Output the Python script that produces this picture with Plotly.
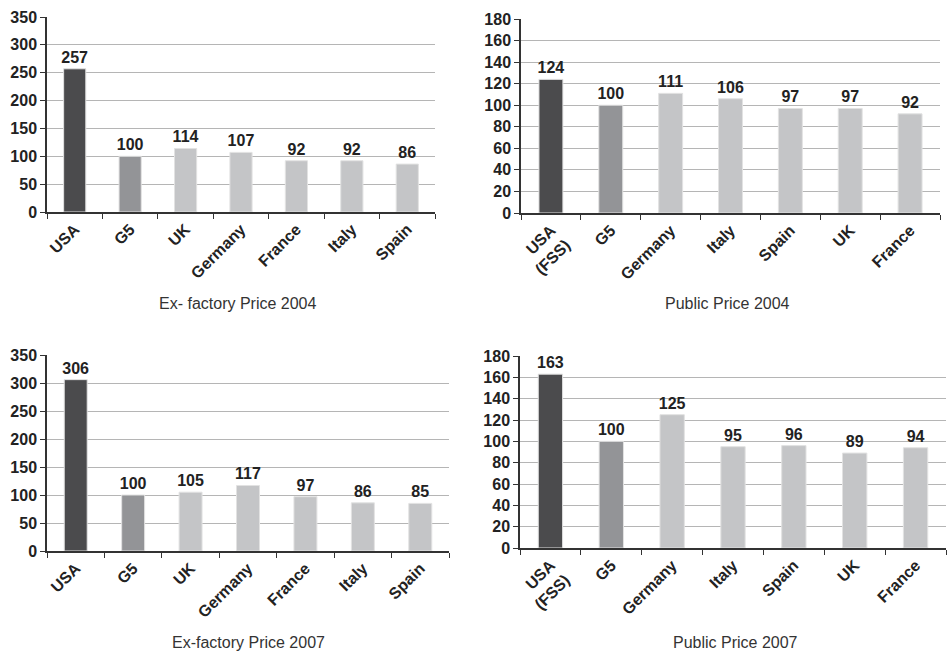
import plotly.graph_objects as go

cats_ex = ["USA", "G5", "UK", "Germany", "France", "Italy", "Spain"]
cats_pub = ["USA<br>(FSS)", "G5", "Germany", "Italy", "Spain", "UK", "France"]

ex_2004 = [257, 100, 114, 107, 92, 92, 86]
pub_2004 = [124, 100, 111, 106, 97, 97, 92]
ex_2007 = [306, 100, 105, 117, 97, 86, 85]
pub_2007 = [163, 100, 125, 95, 96, 89, 94]

titles = ["Ex- factory Price 2004", "Public Price 2004", "Ex-factory Price 2007", "Public Price 2007"]

W, H = 947, 651
bar_colors = ["#4b4b4d", "#939497"] + ["#c4c5c7"] * 5
FONT = "Liberation Sans, Arial, sans-serif"

panels = [
    # cats, values, ymax, dtick, x0, x1, ytop, ybottom (pixels), title center x, title y
    (cats_ex, ex_2004, 350, 50, 47, 435, 17, 212, 238, 303),
    (cats_pub, pub_2004, 180, 20, 521, 940, 19, 213, 727, 303),
    (cats_ex, ex_2007, 350, 50, 47, 449, 355, 551, 248, 642),
    (cats_pub, pub_2007, 180, 20, 520, 946, 356, 548, 735, 642),
]

fig = go.Figure()
layout = dict(
    width=W, height=H, margin=dict(l=0, r=0, t=0, b=0, autoexpand=False),
    paper_bgcolor="white", plot_bgcolor="white",
    showlegend=False, bargap=0.6,
    font=dict(family=FONT, color="#222"),
    annotations=[],
)

for i, (cats, vals, ymax, dt, x0, x1, yt, yb, tx, ty) in enumerate(panels):
    k = "" if i == 0 else str(i + 1)
    fig.add_trace(go.Bar(
        x=cats, y=vals, xaxis="x" + k, yaxis="y" + k,
        marker=dict(color=bar_colors, line=dict(color="#e2e2e2", width=1)),
        text=[str(v) for v in vals], textposition="outside", constraintext="none",
        textfont=dict(size=16, color="#222", family=FONT, weight="bold"),
        cliponaxis=False, hoverinfo="skip",
    ))
    layout["xaxis" + k] = dict(
        domain=[x0 / W, x1 / W], anchor="y" + k, automargin=False,
        showline=True, linecolor="#333", linewidth=1.5,
        ticks="outside", tickson="boundaries", ticklen=5, tickcolor="#333",
        tickangle=-45, showgrid=False,
        tickfont=dict(size=16, color="#222", family=FONT, weight="bold"),
        fixedrange=True,
    )
    layout["yaxis" + k] = dict(
        domain=[(H - yb) / H, (H - yt) / H], anchor="x" + k, automargin=False,
        range=[0, ymax], dtick=dt, tick0=0,
        showline=True, linecolor="#333", linewidth=1.5,
        ticks="outside", ticklen=5, tickcolor="#333",
        showgrid=True, gridcolor="#b5b5b5", gridwidth=1,
        zeroline=False,
        tickfont=dict(size=16, color="#222", family=FONT, weight="bold"),
        fixedrange=True,
    )
    layout["annotations"].append(dict(
        text=titles[i], x=tx / W, y=(H - ty) / H, xref="paper", yref="paper",
        showarrow=False, xanchor="center", yanchor="middle",
        font=dict(size=16, color="#333", family=FONT),
    ))

fig.update_layout(**layout)
fig.write_html(
    "out.html",
    config={"displayModeBar": False},
    post_script="document.body.style.margin='0';document.body.style.overflow='hidden';",
)
